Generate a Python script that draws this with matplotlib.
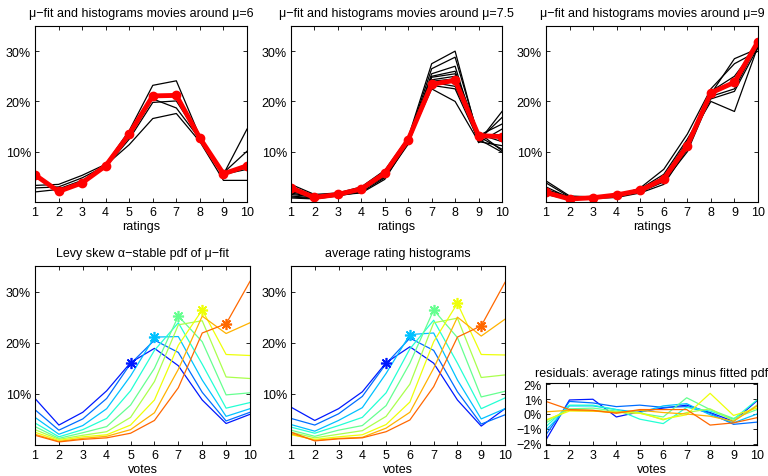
import numpy as np
import matplotlib
matplotlib.use('Agg')
import matplotlib.pyplot as plt

plt.rcParams['font.family'] = ['Liberation Sans', 'DejaVu Sans']
plt.rcParams['font.size'] = 9

ratings = np.arange(1, 11)

# top row: histograms of single movies (black) and the mu-fit (red), in percent
hist_mu6 = [
    [3.3, 3.5, 5.3, 7.5, 14.2, 23.2, 24.1, 13.0, 5.5, 14.5],
    [2.8, 3.0, 4.8, 7.2, 13.0, 20.5, 18.7, 12.5, 5.8, 10.1],
    [5.0, 2.6, 4.3, 7.0, 12.5, 19.8, 20.1, 12.8, 5.5, 6.5],
    [2.0, 2.5, 4.0, 7.3, 11.4, 16.6, 17.6, 12.0, 4.3, 4.3],
]
fit_mu6 = [5.4, 2.1, 3.8, 7.2, 13.5, 21.1, 21.2, 12.7, 5.6, 7.2]

hist_mu75 = [
    [3.5, 1.5, 1.8, 3.0, 6.3, 12.8, 27.5, 30.0, 12.5, 9.9],
    [2.0, 1.2, 1.6, 2.8, 6.0, 12.5, 26.5, 28.8, 13.0, 10.5],
    [1.5, 1.0, 1.5, 2.6, 5.8, 12.3, 25.5, 27.0, 12.0, 11.2],
    [1.2, 0.8, 1.4, 2.5, 5.6, 12.0, 25.0, 26.0, 13.5, 12.0],
    [1.0, 0.7, 1.3, 2.3, 5.2, 11.8, 24.8, 25.5, 12.8, 13.0],
    [2.5, 1.1, 1.7, 2.7, 5.9, 12.6, 24.3, 25.0, 11.8, 14.5],
    [0.8, 0.6, 1.2, 2.0, 4.8, 11.5, 23.8, 23.0, 13.2, 15.5],
    [3.0, 1.3, 1.6, 2.9, 6.1, 12.4, 23.2, 22.5, 12.3, 16.8],
    [1.8, 0.9, 1.5, 2.4, 5.0, 12.2, 22.5, 20.0, 12.0, 18.0],
    [2.2, 1.0, 1.4, 1.8, 4.5, 11.9, 24.0, 24.5, 13.8, 10.2],
]
fit_mu75 = [2.8, 0.9, 1.5, 2.6, 5.7, 12.4, 23.4, 24.2, 13.2, 13.0]

hist_mu9 = [
    [4.2, 1.2, 1.0, 1.3, 2.5, 5.0, 12.0, 20.0, 18.0, 31.0],
    [3.8, 1.0, 0.9, 1.2, 2.3, 4.5, 11.0, 21.5, 28.5, 30.5],
    [3.0, 0.8, 0.8, 1.1, 2.8, 6.5, 13.5, 22.5, 27.5, 30.0],
    [2.5, 1.0, 1.1, 1.5, 2.0, 4.0, 10.0, 21.0, 22.5, 31.5],
    [2.0, 0.7, 0.9, 1.4, 2.6, 5.5, 12.5, 20.5, 22.0, 30.8],
    [1.5, 0.5, 0.7, 0.9, 1.8, 3.5, 10.5, 22.0, 25.0, 31.2],
]
fit_mu9 = [1.9, 0.6, 0.85, 1.4, 2.3, 4.6, 11.2, 21.7, 23.8, 31.9]

top_mus = ['6', '7.5', '9']

# bottom row: mu = 5, 5.5, ..., 9
mus = [5, 5.5, 6, 6.5, 7, 7.5, 8, 8.5, 9]
levy_pdf = [
    [9.1, 3.9, 6.4, 10.6, 16.1, 18.9, 15.5, 8.8, 4.2, 6.0],
    [6.9, 2.9, 5.1, 9.1, 15.9, 20.5, 18.1, 10.3, 4.7, 6.4],
    [5.4, 2.1, 3.8, 7.1, 13.5, 21.1, 21.2, 12.7, 5.6, 7.1],
    [4.3, 1.6, 3.0, 5.2, 10.6, 18.5, 23.9, 15.8, 7.2, 8.3],
    [3.6, 1.3, 2.4, 3.6, 7.8, 15.0, 25.2, 20.2, 9.8, 10.2],
    [3.0, 1.1, 1.9, 2.6, 5.4, 12.4, 23.5, 24.3, 13.3, 13.0],
    [2.5, 0.9, 1.6, 2.0, 3.9, 8.8, 19.5, 26.4, 17.7, 17.5],
    [2.1, 0.7, 1.3, 1.7, 3.0, 6.3, 14.8, 25.2, 21.8, 23.9],
    [1.9, 0.6, 1.1, 1.4, 2.3, 4.8, 11.2, 21.9, 23.7, 32.0],
]
avg_hist = [
    [7.4, 4.8, 7.1, 10.4, 16.1, 19.2, 16.0, 8.8, 3.7, 7.1],
    [5.2, 3.9, 6.1, 9.5, 15.9, 20.9, 18.5, 10.4, 4.1, 5.9],
    [4.0, 2.7, 4.8, 7.3, 14.0, 21.6, 21.9, 12.7, 5.1, 7.1],
    [3.5, 2.3, 3.8, 5.4, 10.2, 18.8, 24.4, 16.0, 7.1, 9.2],
    [2.9, 1.7, 2.9, 3.8, 7.7, 16.0, 26.4, 21.0, 9.4, 10.5],
    [2.5, 1.4, 2.1, 2.8, 5.6, 11.9, 23.9, 24.8, 13.2, 13.7],
    [2.0, 1.1, 1.6, 2.0, 4.0, 8.4, 20.2, 27.7, 17.7, 17.6],
    [2.2, 0.9, 1.3, 1.5, 3.3, 6.4, 15.0, 25.0, 21.3, 24.6],
    [2.5, 0.8, 1.2, 1.4, 2.6, 4.9, 11.4, 21.1, 23.3, 31.8],
]
residuals = [
    [-1.75, 0.95, 1.0, -0.2, 0.15, 0.4, 0.6, 0.1, -0.5, 0.9],
    [-1.4, 0.85, 0.75, 0.5, 0.6, 0.45, 0.5, 0.05, -0.7, -0.55],
    [-1.1, 0.55, 0.55, 0.3, 0.1, 0.55, 0.7, -0.05, -0.6, 0.0],
    [-0.85, 0.6, 0.6, 0.3, -0.35, -0.65, 0.45, 0.2, -0.35, 0.95],
    [-0.6, 0.35, 0.4, 0.2, 0.05, -0.2, 1.1, 0.3, -0.3, 0.3],
    [-0.45, 0.3, 0.25, 0.15, 0.1, -0.4, 0.1, 0.35, -0.45, 0.6],
    [-0.4, 0.2, 0.2, 0.1, 0.05, -0.35, -0.05, 1.4, -0.1, 0.4],
    [0.15, 0.25, 0.2, 0.1, 0.25, 0.1, 0.0, -0.15, -0.5, 0.55],
    [0.85, 0.3, 0.25, 0.05, 0.3, 0.3, 0.3, -0.75, -0.6, -0.25],
]
star_idx = [0, 2, 4, 6, 8]   # curves at integer mu get a star at x = mu

colors = plt.cm.jet(np.linspace(0.15, 0.8, len(mus)))


def matlab_axes(ax):
    ax.set_xlim(1, 10)
    ax.set_xticks(ratings)
    ax.tick_params(direction='in', top=True, right=True, length=3,
                   width=0.6, labelsize=9, pad=3)
    for s in ax.spines.values():
        s.set_linewidth(0.8)


def pct_axes(ax):
    ax.set_ylim(0, 0.35)
    ax.set_yticks([0.1, 0.2, 0.3])
    ax.set_yticklabels(['10%', '20%', '30%'])


fig = plt.figure(figsize=(7.68, 4.77), dpi=100)
W, H = 768.0, 477.0


def add_ax(x0, x1, y0, y1):
    return fig.add_axes([x0 / W, 1 - y1 / H, (x1 - x0) / W, (y1 - y0) / H])


top_axes = [add_ax(35, 247, 27, 203), add_ax(291, 502, 27, 203), add_ax(546, 758, 27, 203)]
for ax, hists, fit, mu in zip(top_axes, [hist_mu6, hist_mu75, hist_mu9],
                              [fit_mu6, fit_mu75, fit_mu9], top_mus):
    for h in hists:
        ax.plot(ratings, np.array(h) / 100, color='black', lw=0.9)
    ax.plot(ratings, np.array(fit) / 100, color='red', lw=3.5, marker='o',
            ms=6, mfc='red', mec='red')
    matlab_axes(ax)
    pct_axes(ax)
    ax.set_title('μ−fit and histograms movies around μ=' + mu, fontsize=9, pad=7)
    ax.set_xlabel('ratings', fontsize=9, labelpad=1)

bottom_axes = [add_ax(35, 250, 267, 446), add_ax(291, 505, 267, 446)]
for ax, curves, title in zip(bottom_axes, [levy_pdf, avg_hist],
                             ['Levy skew α−stable pdf of μ−fit',
                              'average rating histograms']):
    for i, c in enumerate(curves):
        ax.plot(ratings, np.array(c) / 100, color=colors[i], lw=0.9)
    for i in star_idx:
        k = int(mus[i]) - 1
        ax.plot(mus[i], curves[i][k] / 100, marker=(8, 2, 0), ms=8,
                color=colors[i], mew=1.2, ls='none')
    matlab_axes(ax)
    pct_axes(ax)
    ax.set_title(title, fontsize=9, pad=7)
    ax.set_xlabel('votes', fontsize=9, labelpad=1)

ax = add_ax(546, 757, 384, 446)
for i, r in enumerate(residuals):
    ax.plot(ratings, np.array(r) / 100, color=colors[i], lw=0.9)
matlab_axes(ax)
ax.set_ylim(-0.021, 0.021)
ax.set_yticks([-0.02, -0.01, 0, 0.01, 0.02])
ax.set_yticklabels(['−2%', '−1%', '0%', '1%', '2%'])
ax.set_title('residuals: average ratings minus fitted pdf', fontsize=9, pad=5)
ax.set_xlabel('votes', fontsize=9, labelpad=1)

fig.savefig('out.png', dpi=100)
